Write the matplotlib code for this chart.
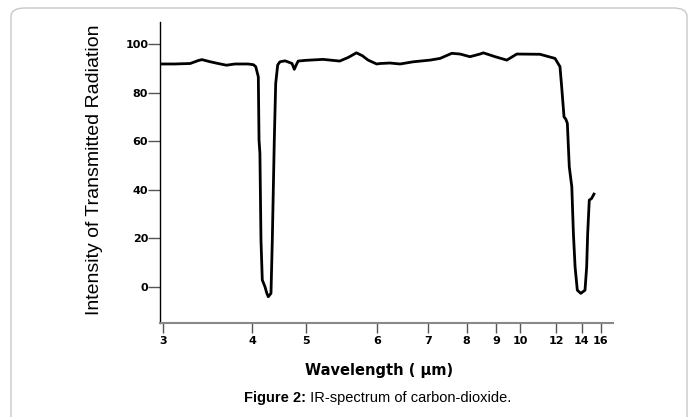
import numpy as np
import matplotlib
matplotlib.use("Agg")
import matplotlib.pyplot as plt
from matplotlib.patches import FancyBboxPatch

# spectrum (wavelength in um, intensity in %)
wavelength = [2.978, 3.10, 3.25, 3.33, 3.37, 3.45, 3.55, 3.65, 3.76, 3.94,
              4.02, 4.055, 4.095, 4.106, 4.12, 4.137, 4.158, 4.202, 4.23, 4.257,
              4.303, 4.326, 4.361, 4.386, 4.422, 4.464, 4.56, 4.625, 4.70, 4.747,
              4.79, 4.83, 5.0, 5.21, 5.43, 5.55, 5.67, 5.76, 5.85, 5.99,
              6.05, 6.22, 6.41, 6.67, 7.04, 7.28, 7.58, 7.81, 8.10, 8.42,
              8.53, 8.95, 9.41, 9.84, 11.01, 11.93, 12.27, 12.39, 12.56, 12.70,
              12.81, 12.96, 13.16, 13.29, 13.43, 13.62, 13.93, 14.32, 14.48, 14.58,
              14.74, 14.98, 15.23]
intensity = [91.8, 91.8, 92.0, 93.2, 93.6, 92.8, 92.0, 91.3, 91.8, 91.8,
             91.5, 90.7, 86.5, 60.5, 55.0, 19.2, 2.8, 0.0, -2.5, -4.1,
             -2.7, 19.2, 60.5, 83.8, 91.4, 92.7, 93.1, 92.6, 92.0, 89.6,
             91.5, 93.0, 93.3, 93.7, 93.0, 94.5, 96.4, 95.2, 93.4, 91.8,
             92.0, 92.2, 91.8, 92.7, 93.4, 94.1, 96.2, 95.9, 94.8, 95.9,
             96.4, 94.8, 93.4, 95.9, 95.8, 94.1, 90.7, 82.4, 70.0, 69.0,
             67.3, 49.4, 41.2, 22.0, 8.2, -1.4, -2.7, -1.4, 8.2, 22.0,
             35.7, 36.4, 38.2]

x_ticks = [3, 4, 5, 6, 7, 8, 9, 10, 12, 14, 16]
y_ticks = [0, 20, 40, 60, 80, 100]


# chart paper: linear in wavenumber, double scale below 2000 cm-1
def fwd(lam):
    lam = np.asarray(lam, dtype=float)
    with np.errstate(divide="ignore", invalid="ignore"):
        w = 1e4 / np.where(lam > 0, lam, 1e-9)
    return np.where(w >= 2000, 3333.333 - w, 1333.333 + 2 * (2000 - w))


def inv(u):
    u = np.asarray(u, dtype=float)
    w = np.where(u <= 1333.333, 3333.333 - u, 2000 - (u - 1333.333) / 2)
    with np.errstate(divide="ignore", invalid="ignore"):
        return 1e4 / np.where(w > 1, w, 1)


W, H = 692, 417
fig = plt.figure(figsize=(W / 100, H / 100), dpi=100)

# rounded frame around the figure
frame = FancyBboxPatch((11 / W, -0.05), 676 / W, 1.05 - 8 / H,
                       boxstyle="round,pad=0,rounding_size=0.02",
                       transform=fig.transFigure, facecolor="none",
                       edgecolor="#c8c8c8", lw=1.0, zorder=-1)
fig.patches.append(frame)

ax = fig.add_axes([160 / W, 1 - 322.7 / H, 453 / W, 300.7 / H])
ax.patch.set_alpha(0)
ax.set_xscale("function", functions=(fwd, inv))
ax.plot(wavelength, intensity, color="black", lw=2.0, solid_joinstyle="round")
ax.set_xlim(2.9775, 17.61)
ax.set_ylim(-14.8, 109.1)

ax.set_xticks(x_ticks)
ax.set_xticklabels([str(t) for t in x_ticks])
ax.xaxis.set_minor_locator(matplotlib.ticker.NullLocator())
ax.set_yticks(y_ticks)
ax.set_yticklabels([str(t) for t in y_ticks])

for s in ["top", "right"]:
    ax.spines[s].set_visible(False)
ax.spines["left"].set_color("black")
ax.spines["left"].set_linewidth(1.0)
ax.spines["bottom"].set_color("#888888")
ax.spines["bottom"].set_linewidth(1.5)

ax.tick_params(axis="x", direction="out", length=7.5, width=1, color="#555555",
               pad=2, labelsize=8)
ax.tick_params(axis="y", direction="out", length=8.5, width=1, color="#555555",
               pad=0, labelsize=8)
for lab in ax.get_xticklabels() + ax.get_yticklabels():
    lab.set_fontweight("bold")
    lab.set_family("DejaVu Sans")

fig.text(95 / W, 1 - 170 / H, "Intensity of Transmitted Radiation",
         rotation=90, ha="center", va="center", fontsize=14,
         family="Liberation Sans")
fig.text(379 / W, 1 - 370 / H, "Wavelength ( \u00b5m)", ha="center",
         va="center", fontsize=10.5, fontweight="bold", family="DejaVu Sans")

# caption with a bold lead-in
fig.canvas.draw()
r = fig.canvas.get_renderer()
t1 = fig.text(0, 1 - 398 / H, "Figure 2:", ha="left", va="center",
              fontsize=10.5, fontweight="bold", family="Liberation Sans")
t2 = fig.text(0, 1 - 398 / H, " IR-spectrum of carbon-dioxide.", ha="left",
              va="center", fontsize=10.5, family="Liberation Sans")
w1 = t1.get_window_extent(r).width
w2 = t2.get_window_extent(r).width
x0 = 377.5 - (w1 + w2) / 2
t1.set_x(x0 / W)
t2.set_x((x0 + w1) / W)

fig.savefig("out.png", dpi=100)
